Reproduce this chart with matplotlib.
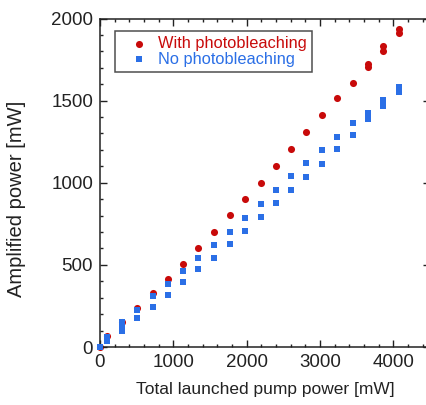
import matplotlib

matplotlib.use("Agg")
import matplotlib.pyplot as plt
from matplotlib.ticker import MultipleLocator

plt.rcParams["font.family"] = ["Liberation Sans", "DejaVu Sans"]

# with photobleaching (red circles)
pump_red = [0, 100, 300, 510, 720, 925, 1135, 1340, 1550, 1770, 1980, 2190,
            2400, 2605, 2815, 3025, 3230, 3450, 3660, 3660, 3865, 3865, 4075, 4075]
amp_red = [0, 67, 155, 240, 331, 417, 508, 604, 703, 803, 903, 1000,
           1100, 1204, 1310, 1415, 1517, 1610, 1720, 1705, 1832, 1805, 1934, 1913]

# no photobleaching (blue squares)
pump_blue = [0, 100, 100, 300, 300, 300, 510, 510, 720, 720, 925, 925, 1135, 1135,
             1340, 1340, 1550, 1550, 1770, 1770, 1980, 1980, 2190, 2190, 2400, 2400,
             2605, 2605, 2815, 2815, 3025, 3025, 3230, 3230, 3450, 3450, 3660, 3660,
             3865, 3865, 4075, 4075]
amp_blue = [0, 60, 35, 150, 125, 100, 226, 175, 311, 244, 386, 315, 465, 395,
            543, 472, 620, 543, 700, 628, 785, 708, 872, 793, 958, 879,
            1043, 958, 1120, 1035, 1200, 1114, 1279, 1208, 1365, 1293, 1427, 1387,
            1505, 1470, 1580, 1555]

RED = "#c80a0a"
BLUE = "#2b6fe6"

fig = plt.figure(figsize=(4.27, 4.05), dpi=100)
ax = fig.add_axes([100 / 427, 58 / 405, 330 / 427, 328.5 / 405])

ax.scatter(pump_red, amp_red, s=26, marker="o", color=RED, linewidths=0,
           label="With photobleaching", zorder=2, clip_on=False)
ax.scatter(pump_blue, amp_blue, s=20, marker="s", color=BLUE, linewidths=0,
           label="No photobleaching", zorder=3, clip_on=False)

ax.set_xlim(0, 4500)
ax.set_ylim(0, 2000)
ax.xaxis.set_major_locator(MultipleLocator(1000))
ax.xaxis.set_minor_locator(MultipleLocator(200))
ax.yaxis.set_major_locator(MultipleLocator(500))
ax.yaxis.set_minor_locator(MultipleLocator(100))
ax.tick_params(which="both", direction="in", top=True, right=True, labelsize=13.5,
               width=1, colors="#222222")
ax.tick_params(which="major", length=5, pad=5)
ax.tick_params(which="minor", length=2.5)
for sp in ax.spines.values():
    sp.set_linewidth(1.1)
    sp.set_color("#222222")

ax.set_xlabel("Total launched pump power [mW]", fontsize=12.5, labelpad=8, color="#222222")
ax.set_ylabel("Amplified power [mW]", fontsize=14.5, color="#222222")
ax.yaxis.set_label_coords(-0.225, 0.45)

leg = ax.legend(loc="upper left", bbox_to_anchor=(0.045, 0.962), borderaxespad=0,
                fontsize=11.8, frameon=True, fancybox=False, handletextpad=0.05,
                borderpad=0.3, labelspacing=0.05, handlelength=2.3, scatterpoints=1)
leg.get_frame().set_edgecolor("#222222")
leg.get_frame().set_linewidth(1.1)
for txt, c in zip(leg.get_texts(), [RED, BLUE]):
    txt.set_color(c)

fig.savefig("out.png", dpi=100)
